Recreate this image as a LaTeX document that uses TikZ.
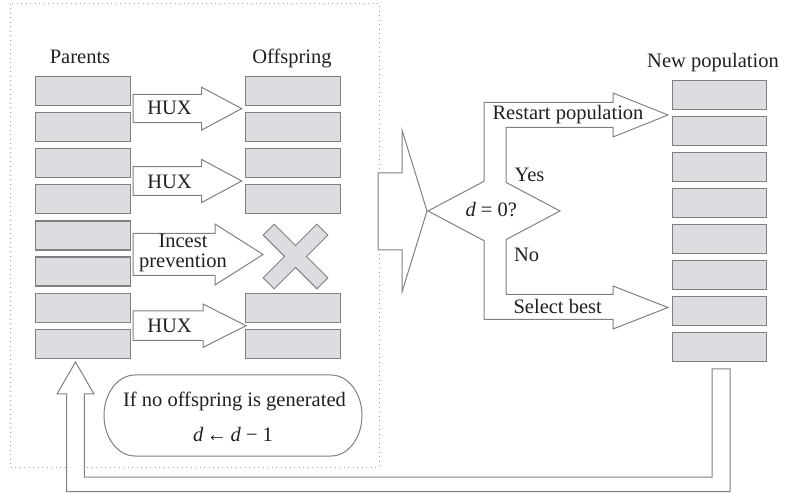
\documentclass[tikz,border=0pt]{standalone}
\usepackage{fontspec}
\setmainfont{Liberation Serif}
\definecolor{linegray}{HTML}{808080}
\definecolor{cellgray}{HTML}{DCDDE0}
\definecolor{framegray}{HTML}{A0A0A0}
\definecolor{textcol}{HTML}{231F20}
\tikzset{
  cell/.style={draw=linegray, fill=cellgray, line width=1.2pt, minimum width=95pt, minimum height=29pt, inner sep=0pt, anchor=north west},
  blk/.style={draw=linegray, fill=white, line width=1pt, line join=miter},
  lbl/.style={font=\fontsize{20.5}{24}\selectfont, anchor=base, inner sep=0pt, text=textcol},
}
\begin{document}
\begin{tikzpicture}[x=1pt,y=-1pt]
\useasboundingbox (0,0) rectangle (785,494);
% dotted frame
\draw[framegray, line width=1pt, dash pattern=on 1pt off 3.5pt] (10,4) rectangle (379,467);
% parents
\foreach \i in {1,...,8} \node[cell] (p\i) at (35,{76+36.1*(\i-1)}) {};
% offspring
\foreach \i in {1,2,3,4,7,8} \node[cell] (o\i) at (245,{76+36.1*(\i-1)}) {};
% new population
\foreach \i in {1,...,8} \node[cell, minimum width=94pt] (n\i) at (672,{80+36*(\i-1)}) {};
% HUX arrows
\draw[blk] (133,94.3) -- (201.7,94.3) -- (201.7,87.3) -- (241.7,108.6) -- (201.7,130) -- (201.7,122.7) -- (133,122.7) -- cycle;
\draw[blk] (133,166.7) -- (201.7,166.7) -- (201.7,159.5) -- (241.7,181) -- (201.7,202.5) -- (201.7,195.3) -- (133,195.3) -- cycle;
\draw[blk] (133,233.5) -- (215,233.5) -- (215,224) -- (263,254.5) -- (215,285) -- (215,275.5) -- (133,275.5) -- cycle;
\draw[blk] (133,311) -- (203,311) -- (203,304) -- (246,325.7) -- (203,347.4) -- (203,340.4) -- (133,340.4) -- cycle;
% cross
\begin{scope}[shift={(295.5,256.5)}, rotate=45]
\draw[draw=linegray, fill=cellgray, line width=1pt, line join=miter]
  (7.75,7.75) -- (38,7.75) -- (38,-7.75) -- (7.75,-7.75) -- (7.75,-38) -- (-7.75,-38) -- (-7.75,-7.75) -- (-38,-7.75) -- (-38,7.75) -- (-7.75,7.75) -- (-7.75,38) -- (7.75,38) -- cycle;
\end{scope}
% big arrow
\draw[blk] (378,173) -- (402,173) -- (402,130) -- (427,211) -- (402,292) -- (402,250) -- (378,250) -- cycle;
% decision fork
\draw[blk] (428,211) -- (484,181.3) -- (484,102.5) -- (613,102.5) -- (613,93) -- (668,115) -- (613,137) -- (613,127.5) -- (506,127.5) -- (506,182.4) -- (560,211) -- (506,239.6) -- (506,294.5) -- (613,294.5) -- (613,286) -- (668,307.5) -- (613,329) -- (613,319.5) -- (484,319.5) -- (484,240.7) -- cycle;
% feedback arrow
\draw[blk] (75.5,362) -- (94,394) -- (84.3,394) -- (84.3,477) -- (712,477) -- (712,369) -- (730,369) -- (730,491.5) -- (66.7,491.5) -- (66.7,394) -- (57,394) -- cycle;
% note
\draw[blk] (135,375) -- (331,375) arc[start angle=-90, end angle=90, x radius=31, y radius=40.5] -- (135,456) arc[start angle=90, end angle=270, x radius=31, y radius=40.5] -- cycle;
% labels
\node[lbl] (tparents) at (80,64) {Parents};
\node[lbl] (toff) at (292,64) {Offspring};
\node[lbl] (tnew) at (713,67.5) {New population};
\node[lbl] (th1) at (169.5,115) {HUX};
\node[lbl] (th2) at (169.5,188.3) {HUX};
\node[lbl] (th3) at (169.5,332.7) {HUX};
\node[lbl, align=center, font=\fontsize{20.5}{19.5}\selectfont] (tinc) at (183,267.5) {Incest\\prevention};
\node[lbl] (trestart) at (568,120) {Restart population};
\node[lbl] (tselect) at (557.7,314) {Select best};
\node[lbl] (tyes) at (529.5,181.7) {Yes};
\node[lbl] (tno) at (526.7,261.7) {No};
\node[lbl] (tcond) at (491.3,216.7) {\textit{d} = 0?};
\node[lbl] (tnote1) at (234.5,406.7) {If no offspring is generated};
\node[lbl] (tnote2) at (233,441) {\textit{d}\,←\,\textit{d} − 1};
\end{tikzpicture}
\end{document}
